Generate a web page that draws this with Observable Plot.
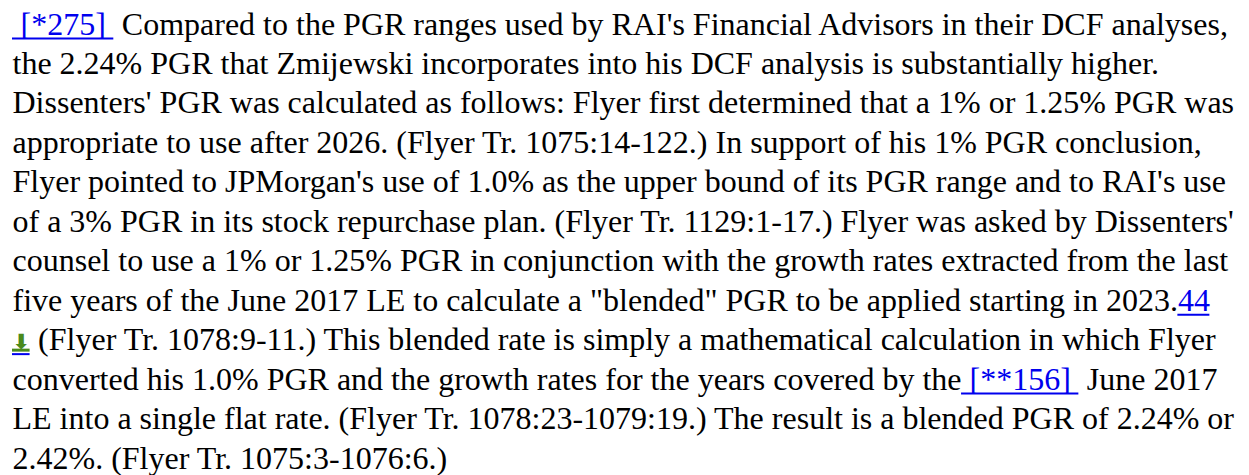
<!DOCTYPE html>
<html>
<head>
<meta charset="utf-8">
<script src="https://cdn.jsdelivr.net/npm/d3@7"></script>
<script src="https://cdn.jsdelivr.net/npm/@observablehq/plot@0.6"></script>
<style>
  html, body { margin: 0; padding: 0; background: #fff; }
  #chart svg { display: block; }
</style>
</head>
<body>
<div id="chart"></div>
<script>
// Text content: each line is a list of segments (kind: "text", "link", "icon")
const line1 = [["link", " [*275] "], ["text", " Compared to the PGR ranges used by RAI's Financial Advisors in their DCF analyses,"]];
const line2 = [["text", "the 2.24% PGR that Zmijewski incorporates into his DCF analysis is substantially higher."]];
const line3 = [["text", "Dissenters' PGR was calculated as follows: Flyer first determined that a 1% or 1.25% PGR was"]];
const line4 = [["text", "appropriate to use after 2026. (Flyer Tr. 1075:14-122.) In support of his 1% PGR conclusion,"]];
const line5 = [["text", "Flyer pointed to JPMorgan's use of 1.0% as the upper bound of its PGR range and to RAI's use"]];
const line6 = [["text", "of a 3% PGR in its stock repurchase plan. (Flyer Tr. 1129:1-17.) Flyer was asked by Dissenters'"]];
const line7 = [["text", "counsel to use a 1% or 1.25% PGR in conjunction with the growth rates extracted from the last"]];
const line8 = [["text", "five years of the June 2017 LE to calculate a \"blended\" PGR to be applied starting in 2023."], ["link", "44"]];
const line9 = [["icon", "\u2B07"], ["text", " (Flyer Tr. 1078:9-11.) This blended rate is simply a mathematical calculation in which Flyer"]];
const line10 = [["text", "converted his 1.0% PGR and the growth rates for the years covered by the"], ["link", " [**156] "], ["text", " June 2017"]];
const line11 = [["text", "LE into a single flat rate. (Flyer Tr. 1078:23-1079:19.) The result is a blended PGR of 2.24% or"]];
const line12 = [["text", "2.42%. (Flyer Tr. 1075:3-1076:6.)"]];
const lines = [line1, line2, line3, line4, line5, line6, line7, line8, line9, line10, line11, line12];

const FONT = "Liberation Serif";
const FS = 32;
const ICON_FONT = "DejaVu Sans";
const ICON_FS = 21;
const BLUE = "#0000ee";
const GREEN = "#4a8a1c";

const ctx = document.createElement("canvas").getContext("2d");
function measure(s, family, size) {
  ctx.font = `${size}px "${family}"`;
  return ctx.measureText(s).width;
}

// Build segments with computed pixel offsets
const segs = [];
lines.forEach((segments, i) => {
  let x = 0;
  for (const [kind, t] of segments) {
    const fam = kind === "icon" ? ICON_FONT : FONT;
    const fs = kind === "icon" ? ICON_FS : FS;
    const w = measure(t, fam, fs);
    const lead = t.length - t.trimStart().length;
    const leadW = measure(t.slice(0, lead), fam, fs);
    segs.push({line: i + 1, kind, text: t.trim(), x0: x, xt: x + leadW, x1: x + w});
    x += w;
  }
});

const left = 12;
const chart = Plot.plot({
  width: 1249,
  height: 475,
  margin: 0,
  x: {type: "linear", domain: [0, 1249 - left], range: [left, 1249], axis: null},
  y: {type: "linear", domain: [1, 12], range: [34, 468], axis: null},
  marks: [
    Plot.text(segs.filter(d => d.kind !== "icon"), {
      x: "xt", y: "line", text: "text",
      textAnchor: "start", lineAnchor: "bottom",
      fill: d => d.kind === "link" ? BLUE : "#000",
      fontFamily: FONT, fontSize: FS
    }),
    Plot.text(segs.filter(d => d.kind === "icon"), {
      x: "xt", y: "line", text: "text",
      textAnchor: "start", lineAnchor: "bottom", dy: -1,
      fill: GREEN, fontFamily: ICON_FONT, fontSize: ICON_FS, fontWeight: "bold"
    }),
    Plot.ruleY(segs.filter(d => d.kind === "icon"), {
      y: "line", x1: "x0", x2: "x1", dy: 0, stroke: GREEN, strokeWidth: 3
    }),
    Plot.ruleY(segs.filter(d => d.kind !== "text"), {
      y: "line", x1: "x0", x2: "x1", dy: 4, stroke: BLUE, strokeWidth: 2
    })
  ]
});
document.getElementById("chart").appendChild(chart);
</script>
</body>
</html>
